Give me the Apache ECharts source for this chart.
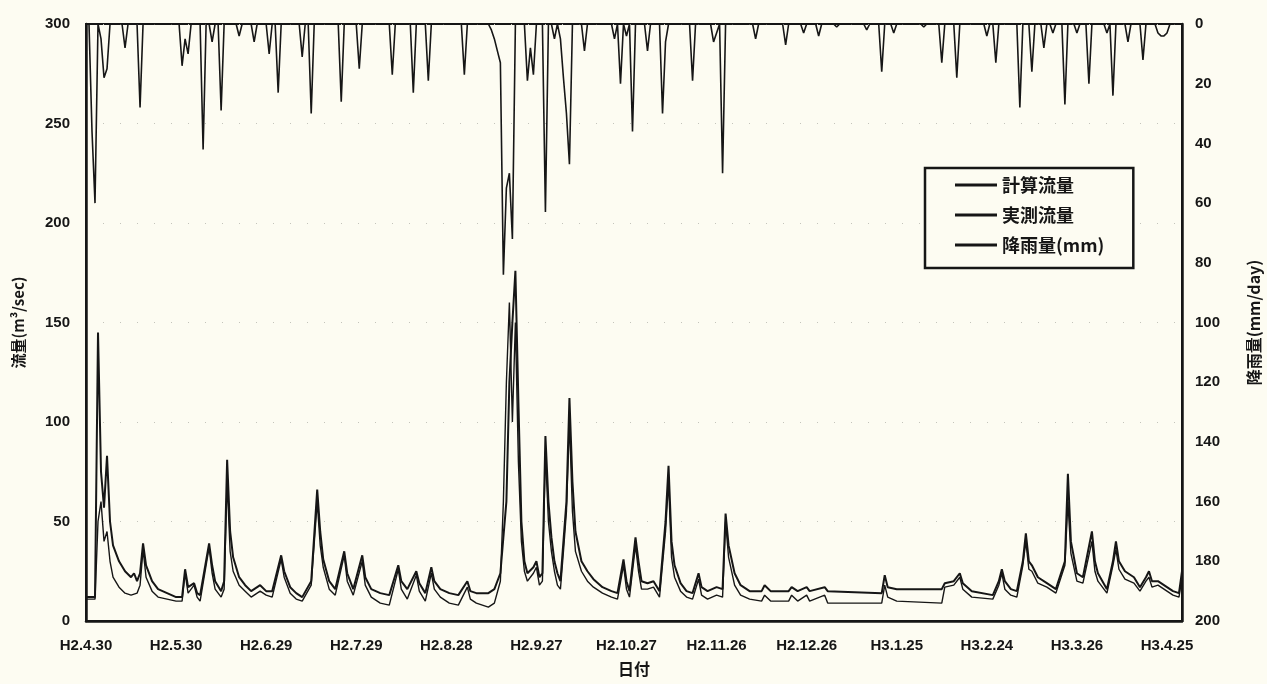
<!DOCTYPE html>
<html>
<head>
<meta charset="utf-8">
<script src="https://cdn.jsdelivr.net/npm/echarts@6/dist/echarts.min.js"></script>
<style>
html,body{margin:0;padding:0;background:#fdfcf2;}
#chart{width:1267px;height:684px;}
</style>
</head>
<body>
<div id="chart"></div>
<script>
// x-axis tick labels (every 30 days, starting H2.4.30 = day 0)
const tickLabels = ['H2.4.30','H2.5.30','H2.6.29','H2.7.29','H2.8.28','H2.9.27','H2.10.27','H2.11.26','H2.12.26','H3.1.25','H3.2.24','H3.3.26','H3.4.25'];

// 計算流量 [day, m3/sec]
const calcFlow = [[0,12],[3,12],[4,145],[5,75],[6,57],[7,83],[8,50],[9,38],[11,30],[13,25],[15,22],[16,24],[17,20],[18,24],[19,39],[20,28],[22,20],[24,16],[27,14],[30,12],[32,12],[33,26],[34,17],[36,19],[37,14],[38,13],[41,39],[42,28],[43,20],[45,15],[46,20],[47,81],[48,45],[49,32],[51,22],[53,18],[55,15],[58,18],[60,15],[62,15],[65,33],[66,25],[68,17],[70,14],[72,12],[75,20],[77,66],[78,45],[79,31],[81,20],[83,16],[86,35],[87,24],[89,16],[92,33],[93,22],[95,16],[98,14],[101,13],[104,28],[105,20],[107,16],[110,25],[111,19],[113,14],[115,27],[116,20],[118,16],[121,14],[124,13],[127,20],[128,15],[130,14],[134,14],[136,16],[138,24],[140,60],[141,120],[142,150],[143,176],[144,110],[145,50],[146,30],[147,24],[149,27],[150,30],[151,22],[152,24],[153,93],[154,60],[155,42],[156,30],[157,24],[158,20],[159,40],[160,60],[161,112],[162,70],[163,45],[165,30],[167,25],[169,21],[172,17],[175,15],[177,14],[179,31],[180,20],[181,15],[183,42],[184,30],[185,20],[187,19],[189,20],[191,15],[193,50],[194,78],[195,40],[196,28],[198,19],[200,15],[202,14],[204,24],[205,17],[207,15],[210,17],[212,16],[213,54],[214,38],[216,24],[218,18],[221,15],[225,15],[226,18],[228,15],[234,15],[235,17],[237,15],[240,17],[241,15],[246,17],[247,15],[265,14],[266,23],[267,17],[270,16],[285,16],[286,19],[289,20],[291,24],[292,19],[295,15],[302,13],[304,20],[305,26],[306,20],[308,16],[310,15],[312,30],[313,44],[314,30],[315,28],[317,22],[320,19],[323,16],[326,30],[327,74],[328,40],[330,24],[332,22],[335,45],[336,30],[337,24],[340,16],[342,30],[343,40],[344,30],[346,25],[349,22],[351,17],[353,22],[354,25],[355,20],[357,20],[360,17],[362,15],[364,14],[365,25]];

// 実測流量 [day, m3/sec]
const obsFlow = [[0,11],[3,11],[4,50],[5,60],[6,40],[7,45],[8,30],[9,22],[11,17],[13,14],[15,13],[17,14],[18,18],[19,36],[20,22],[22,15],[24,12],[27,11],[30,10],[32,10],[33,24],[34,14],[36,18],[37,12],[38,10],[41,37],[42,24],[43,16],[45,12],[46,16],[47,70],[48,35],[49,25],[51,18],[53,15],[55,12],[58,15],[60,13],[62,12],[65,31],[66,22],[68,14],[70,11],[72,10],[75,18],[77,60],[78,38],[79,27],[81,16],[83,13],[86,33],[87,20],[89,13],[92,30],[93,18],[95,12],[98,9],[101,8],[104,26],[105,16],[107,11],[110,23],[111,15],[113,10],[115,24],[116,16],[118,12],[121,9],[124,8],[127,17],[128,11],[130,9],[134,7],[136,9],[138,20],[139,60],[140,120],[141,160],[142,100],[143,150],[144,80],[145,40],[146,25],[147,20],[149,24],[150,27],[151,18],[152,20],[153,85],[154,50],[155,35],[156,25],[157,18],[158,16],[159,35],[160,55],[161,100],[162,55],[163,35],[165,25],[167,20],[169,17],[172,14],[175,12],[177,11],[179,28],[180,16],[181,12],[183,38],[184,25],[185,16],[187,16],[189,17],[191,12],[193,45],[194,70],[195,32],[196,22],[198,15],[200,12],[202,11],[204,21],[205,13],[207,11],[210,13],[212,12],[213,50],[214,32],[216,18],[218,13],[221,11],[225,10],[226,13],[228,10],[234,10],[235,13],[237,10],[240,13],[241,10],[246,13],[247,9],[265,9],[266,18],[267,12],[270,10],[285,9],[286,17],[289,18],[291,22],[292,16],[295,12],[302,11],[304,18],[305,24],[306,16],[308,13],[310,12],[312,28],[313,40],[314,26],[315,25],[317,19],[320,17],[323,14],[326,28],[327,60],[328,34],[330,20],[332,19],[335,40],[336,25],[337,20],[340,14],[342,28],[343,36],[344,26],[346,21],[349,19],[351,15],[353,20],[354,22],[355,17],[357,18],[360,15],[362,13],[364,12],[365,22]];

// 降雨量 (mm/day), one value per day from day 0 (H2.4.30)
const rainfall = [
  0,0,36,60,0,5,18,15,0,0, 0,0,0,8,0,0,0,0,28,0, 0,0,0,0,0,0,0,0,0,0,
  0,0,14,5,10,0,0,0,0,42, 0,0,6,0,0,29,0,0,0,0, 0,4,0,0,0,0,6,0,0,0,
  0,10,0,0,23,0,0,0,0,0, 0,0,11,0,0,30,0,0,0,0, 0,0,0,0,0,26,0,0,0,0,
  0,15,0,0,0,0,0,0,0,0, 0,0,17,0,0,0,0,0,0,23, 0,0,0,0,19,0,0,0,0,0,
  0,0,0,0,0,0,17,0,0,0, 0,0,0,0,0,2,5,9,13,84, 55,50,72,0,0,0,0,19,8,17,
  0,0,0,63,0,0,5,0,5,18, 30,47,0,0,0,0,9,0,0,0, 0,0,0,0,0,0,5,0,20,0,
  4,0,36,0,0,0,0,9,0,0, 0,0,30,6,0,0,0,0,0,0, 0,0,19,0,0,0,0,0,0,6,
  3,0,50,0,0,0,0,0,0,0, 0,0,0,5,0,0,0,0,0,0, 0,0,0,7,0,0,0,0,0,3,
  0,0,0,0,4,0,0,0,0,0, 1,0,0,0,0,0,0,0,0,0, 2,0,0,0,0,16,0,0,0,3,
  0,0,0,0,0,0,0,0,0,1, 0,0,0,0,0,13,0,0,0,0, 18,0,0,0,0,0,0,0,0,0,
  4,0,0,13,0,0,0,0,0,0, 0,28,0,0,0,16,0,0,0,8, 0,0,3,0,0,0,27,0,0,0,
  3,0,0,0,20,0,0,0,0,0, 3,0,24,0,0,0,0,6,0,0, 0,0,12,0,0,0,0,3,4,4,
  3,0,0,0,0,0
];

const ink = '#161616';
const labelFont = {color: ink, fontSize: 15, fontWeight: 'bold', fontFamily: 'Liberation Sans, Arial, sans-serif'};
const chart = echarts.init(document.getElementById('chart'), null, {renderer: 'canvas'});
chart.setOption({
  backgroundColor: '#fdfcf2',
  animation: false,
  grid: {left: 86, right: 85, top: 24, bottom: 63, show: true, borderColor: ink, borderWidth: 2,
         backgroundColor: 'transparent', containLabel: false, outerBoundsMode: 'none'},
  legend: {
    orient: 'vertical', left: 925, top: 168,
    padding: [8, 29, 14, 30],
    itemGap: 12, itemWidth: 42, itemHeight: 3, icon: 'rect',
    borderColor: ink, borderWidth: 2.5, backgroundColor: '#fdfcf2',
    textStyle: {color: ink, fontSize: 18, fontWeight: 'bold', fontFamily: 'Noto Sans CJK JP'},
    data: ['計算流量', '実測流量', '降雨量(mm)']
  },
  xAxis: {
    type: 'value', min: 0, max: 365, interval: 30,
    name: '日付', nameLocation: 'middle', nameGap: 40,
    nameTextStyle: {color: ink, fontSize: 16, fontWeight: 'bold', fontFamily: 'Noto Sans CJK JP'},
    axisLine: {lineStyle: {color: ink, width: 2.5}},
    axisTick: {show: false},
    splitLine: {show: false},
    axisLabel: Object.assign({margin: 17, formatter: v => (v % 30 === 0 ? (tickLabels[v / 30] || '') : '')}, labelFont)
  },
  yAxis: [
    {
      type: 'value', min: 0, max: 300, interval: 50, position: 'left',
      name: '流量(m³/sec)', nameLocation: 'middle', nameGap: 60, nameRotate: 90,
      nameTextStyle: {color: ink, fontSize: 15, fontWeight: 'bold', fontFamily: 'Noto Sans CJK JP'},
      axisLine: {show: true, lineStyle: {color: ink, width: 2.5}},
      axisTick: {show: false},
      splitLine: {show: true, lineStyle: {color: '#c4c4bb', width: 1, type: [1, 16]}},
      axisLabel: Object.assign({margin: 16}, labelFont)
    },
    {
      type: 'value', min: 0, max: 200, interval: 20, position: 'right', inverse: true,
      name: '降雨量(mm/day)', nameLocation: 'middle', nameGap: 64, nameRotate: 90,
      nameTextStyle: {color: ink, fontSize: 16, fontWeight: 'bold', fontFamily: 'Noto Sans CJK JP'},
      axisLine: {show: true, lineStyle: {color: ink, width: 2.5}},
      axisTick: {show: false},
      splitLine: {show: false},
      axisLabel: Object.assign({margin: 13}, labelFont)
    }
  ],
  series: [
    {
      name: '計算流量', type: 'line', yAxisIndex: 0, data: calcFlow,
      showSymbol: false, symbol: 'none', color: ink,
      lineStyle: {color: ink, width: 2}
    },
    {
      name: '実測流量', type: 'line', yAxisIndex: 0, data: obsFlow,
      showSymbol: false, symbol: 'none', color: ink,
      lineStyle: {color: ink, width: 1.4}
    },
    {
      name: '降雨量(mm)', type: 'line', yAxisIndex: 1, data: rainfall.map((v, i) => [i, v]),
      showSymbol: false, symbol: 'none', color: ink,
      lineStyle: {color: ink, width: 1.6}
    }
  ]
});
</script>
</body>
</html>
